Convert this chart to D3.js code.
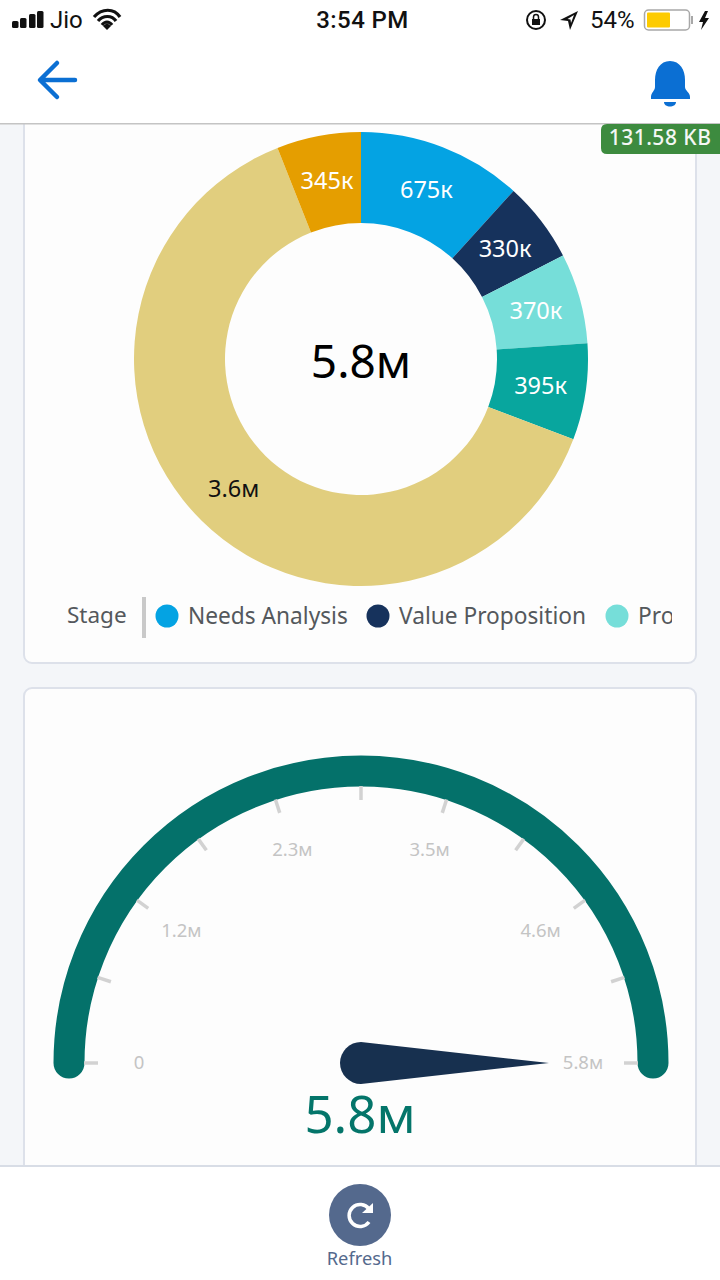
<!DOCTYPE html>
<html>
<head>
<meta charset="utf-8">
<script src="https://cdn.jsdelivr.net/npm/d3@7"></script>
<style>
  html, body { margin: 0; padding: 0; background: #f4f6f9; }
  svg { display: block; }
  text { font-family: "Noto Sans", sans-serif; }
  .status { font-family: Roboto, sans-serif; fill: #111; }
</style>
</head>
<body>
<script>
var w = 720;
var h = 1280;

// donut
var stageValues = [675000, 330000, 370000, 395000, 3640000, 345000];
var stageLabels = ["675к", "330к", "370к", "395к", "3.6м", "345к"];
var stageColors = ["#04a3e3", "#16325c", "#76ded9", "#08a69e", "#e1ce7e", "#e59e00"];
var stageLabelColors = ["#fff", "#fff", "#fff", "#fff", "#111", "#fff"];
var donutTotal = "5.8м";

// legend only shows the first three, the rest is scrolled away
var legendNames = ["Needs Analysis", "Value Proposition", "Proposal"];
var legendX = [167, 378, 617];

// gauge
var gaugeTicks = [0, 0.58, 1.16, 1.74, 2.32, 2.9, 3.48, 4.06, 4.64, 5.22, 5.8];
var gaugeLabelTicks = [0, 1.16, 2.32, 3.48, 4.64, 5.8];
var gaugeLabels = ["0", "1.2м", "2.3м", "3.5м", "4.6м", "5.8м"];
var gaugeValue = 5.8;
var gaugeText = "5.8м";

var svg = d3.select("body")
  .append("svg")
  .attr("width", w)
  .attr("height", h)
  .attr("viewBox", "0 0 " + w + " " + h);

svg.append("rect").attr("width", w).attr("height", h).attr("fill", "#f4f6f9");

// cards
function card(y, height) {
  svg.append("rect")
    .attr("x", 24).attr("y", y)
    .attr("width", 672).attr("height", height)
    .attr("rx", 8)
    .attr("fill", "#fdfdfd")
    .attr("stroke", "#dde1ea")
    .attr("stroke-width", 2);
}
card(80, 583);
card(688, 560);

// donut chart
var pie = d3.pie().sort(null).value(function(d) { return d; });
var arc = d3.arc().innerRadius(136).outerRadius(227);

var donut = svg.append("g").attr("transform", "translate(361,359)");

donut.selectAll("path")
  .data(pie(stageValues))
  .enter()
  .append("path")
  .attr("d", arc)
  .attr("fill", function(d, i) { return stageColors[i]; });

donut.selectAll("text.slice")
  .data(pie(stageValues))
  .enter()
  .append("text")
  .attr("class", "slice")
  .attr("transform", function(d) { return "translate(" + arc.centroid(d) + ")"; })
  .attr("text-anchor", "middle")
  .attr("dy", "0.36em")
  .attr("font-size", 23.5)
  .attr("fill", function(d, i) { return stageLabelColors[i]; })
  .text(function(d, i) { return stageLabels[i]; });

donut.append("text")
  .attr("text-anchor", "middle")
  .attr("y", 19)
  .attr("font-size", 46)
  .attr("fill", "#000")
  .text(donutTotal);

// legend
svg.append("clipPath").attr("id", "legendClip")
  .append("rect").attr("x", 60).attr("y", 590).attr("width", 612).attr("height", 50);

var legend = svg.append("g").attr("clip-path", "url(#legendClip)");

legend.append("text")
  .attr("x", 67).attr("y", 623)
  .attr("font-size", 22.5)
  .attr("fill", "#54585c")
  .text("Stage");

legend.append("rect")
  .attr("x", 142).attr("y", 597)
  .attr("width", 4).attr("height", 41)
  .attr("fill", "#c9c9c9");

legend.selectAll("circle")
  .data(legendNames)
  .enter()
  .append("circle")
  .attr("cx", function(d, i) { return legendX[i]; })
  .attr("cy", 616)
  .attr("r", 11.5)
  .attr("fill", function(d, i) { return stageColors[i]; });

legend.selectAll("text.name")
  .data(legendNames)
  .enter()
  .append("text")
  .attr("class", "name")
  .attr("x", function(d, i) { return legendX[i] + 21; })
  .attr("y", 624)
  .attr("font-size", 22.7)
  .attr("fill", "#54585c")
  .text(function(d) { return d; });

// gauge chart
var gaugeAngle = d3.scaleLinear().domain([0, 5.8]).range([-Math.PI / 2, Math.PI / 2]);
var gauge = svg.append("g").attr("transform", "translate(361,1063)");

function polar(r, a) {
  return [r * Math.sin(a), -r * Math.cos(a)];
}

// open path so the stroke gets its round caps
var gaugeBand = d3.path();
gaugeBand.arc(0, 0, 292, gaugeAngle(0) - Math.PI / 2, gaugeAngle(5.8) - Math.PI / 2);

gauge.append("path")
  .attr("d", gaugeBand.toString())
  .attr("fill", "none")
  .attr("stroke", "#04716a")
  .attr("stroke-width", 31)
  .attr("stroke-linecap", "round");

gauge.selectAll("line")
  .data(gaugeTicks)
  .enter()
  .append("line")
  .attr("x1", function(d) { return polar(263, gaugeAngle(d))[0]; })
  .attr("y1", function(d) { return polar(263, gaugeAngle(d))[1]; })
  .attr("x2", function(d) { return polar(277, gaugeAngle(d))[0]; })
  .attr("y2", function(d) { return polar(277, gaugeAngle(d))[1]; })
  .attr("stroke", "#d2d2d2")
  .attr("stroke-width", 3.5);

gauge.selectAll("text.tick")
  .data(gaugeLabelTicks)
  .enter()
  .append("text")
  .attr("class", "tick")
  .attr("x", function(d) { return polar(222, gaugeAngle(d))[0]; })
  .attr("y", function(d) { return polar(224, gaugeAngle(d))[1] - 1; })
  .attr("dy", "0.36em")
  .attr("text-anchor", "middle")
  .attr("font-size", 18.5)
  .attr("fill", "#c4c4c4")
  .text(function(d, i) { return gaugeLabels[i]; });

// needle
gauge.append("path")
  .attr("d", "M-21,0 A21,21 0 0 1 21,0 L0,188 Z")
  .attr("transform", "rotate(" + (gaugeAngle(gaugeValue) * 180 / Math.PI - 180) + ")")
  .attr("fill", "#17304f");

gauge.append("text")
  .attr("x", -1).attr("y", 70)
  .attr("text-anchor", "middle")
  .attr("font-size", 51)
  .attr("fill", "#04756a")
  .text(gaugeText);

// header
svg.append("rect").attr("width", w).attr("height", 123).attr("fill", "#fff");
svg.append("rect").attr("y", 123).attr("width", w).attr("height", 1.5).attr("fill", "#c4c4c4");

svg.append("path")
  .attr("d", "M75,80 H41 M57,63 L40,80 L57,97")
  .attr("fill", "none")
  .attr("stroke", "#0b6fd3")
  .attr("stroke-width", 4.5)
  .attr("stroke-linecap", "round")
  .attr("stroke-linejoin", "round");

svg.append("path")
  .attr("d", "M670,61 C680,61 685,70 685,80 L685,87 C685,91 690,92 690,97 L690,99 L651,99 L651,97 C651,92 655,91 655,87 L655,80 C655,70 660,61 670,61 Z M664,102 H676 C676,108 664,108 664,102 Z")
  .attr("fill", "#0b6fd3");

// status bar
var bars = [[12, 21], [20, 18], [29, 14], [37, 11]];
svg.selectAll("rect.bar")
  .data(bars)
  .enter()
  .append("rect")
  .attr("class", "bar")
  .attr("x", function(d) { return d[0]; })
  .attr("y", function(d) { return d[1]; })
  .attr("width", 6.5)
  .attr("height", function(d) { return 28 - d[1]; })
  .attr("rx", 1.5)
  .attr("fill", "#111");

svg.append("text").attr("class", "status").attr("x", 50).attr("y", 28).attr("font-size", 24).text("Jio");

svg.append("path")
  .attr("d", "M94,17 C102,8 114,8 120,17 M98,21 C103,15 112,15 116,21 M102,25 C105,21 109,21 112,25")
  .attr("fill", "none").attr("stroke", "#111").attr("stroke-width", 3.2);
svg.append("path").attr("d", "M103,26 L107,30 L111,26 L107,23 Z").attr("fill", "#111");

svg.append("text").attr("class", "status")
  .attr("x", 362.5).attr("y", 28)
  .attr("text-anchor", "middle")
  .attr("font-size", 24)
  .attr("font-weight", 500)
  .attr("letter-spacing", 0.4)
  .text("3:54 PM");

// rotation lock
svg.append("circle").attr("cx", 536).attr("cy", 20).attr("r", 9)
  .attr("fill", "none").attr("stroke", "#111").attr("stroke-width", 2);
svg.append("rect").attr("x", 532).attr("y", 19).attr("width", 8).attr("height", 6).attr("fill", "#111");
svg.append("path").attr("d", "M533.5,19 V17 C533.5,13.5 538.5,13.5 538.5,17 V19")
  .attr("fill", "none").attr("stroke", "#111").attr("stroke-width", 1.5);

// location arrow
svg.append("path")
  .attr("d", "M578,11 L560,20 L568,21 L570,30 Z M574,15 L567.5,19 L570.5,19.5 L571,23 Z")
  .attr("fill", "#111").attr("fill-rule", "evenodd");

svg.append("text").attr("class", "status").attr("x", 590).attr("y", 28).attr("font-size", 24).text("54%");

// battery
svg.append("rect").attr("x", 644.5).attr("y", 10).attr("width", 45).attr("height", 20).attr("rx", 4)
  .attr("fill", "none").attr("stroke", "#a8a8a8").attr("stroke-width", 1.5);
svg.append("rect").attr("x", 647).attr("y", 12.5).attr("width", 23).attr("height", 15).attr("rx", 1).attr("fill", "#fdcb00");
svg.append("rect").attr("x", 691).attr("y", 16).attr("width", 2).attr("height", 8).attr("fill", "#a8a8a8");
svg.append("path").attr("d", "M705,11 L699,22 L703,22 L701,30 L709,18 L705,18 L708,11 Z").attr("fill", "#111");

// size badge
svg.append("path")
  .attr("d", "M720,124 H607 Q601,124 601,130 V148 Q601,154 607,154 H720 Z")
  .attr("fill", "#3d8b3f");
svg.append("text")
  .attr("x", 660).attr("y", 145)
  .attr("text-anchor", "middle")
  .attr("font-size", 21)
  .attr("font-weight", 500)
  .attr("letter-spacing", 0.5)
  .attr("fill", "#f4f7f4")
  .text("131.58 KB");

// footer
svg.append("rect").attr("y", 1165).attr("width", w).attr("height", 115).attr("fill", "#fff");
svg.append("rect").attr("y", 1165).attr("width", w).attr("height", 2).attr("fill", "#d8dde6");

svg.append("circle").attr("cx", 360).attr("cy", 1215).attr("r", 31).attr("fill", "#54698d");
svg.append("path")
  .attr("d", "M369,1209 A11,11 0 1 0 369,1222")
  .attr("fill", "none").attr("stroke", "#fff").attr("stroke-width", 3.5);
svg.append("path").attr("d", "M362,1213 H373 V1203 Z").attr("fill", "#fff");

svg.append("text")
  .attr("x", 359.5).attr("y", 1265)
  .attr("text-anchor", "middle")
  .attr("font-size", 18.3)
  .attr("fill", "#54698d")
  .text("Refresh");
</script>
</body>
</html>
